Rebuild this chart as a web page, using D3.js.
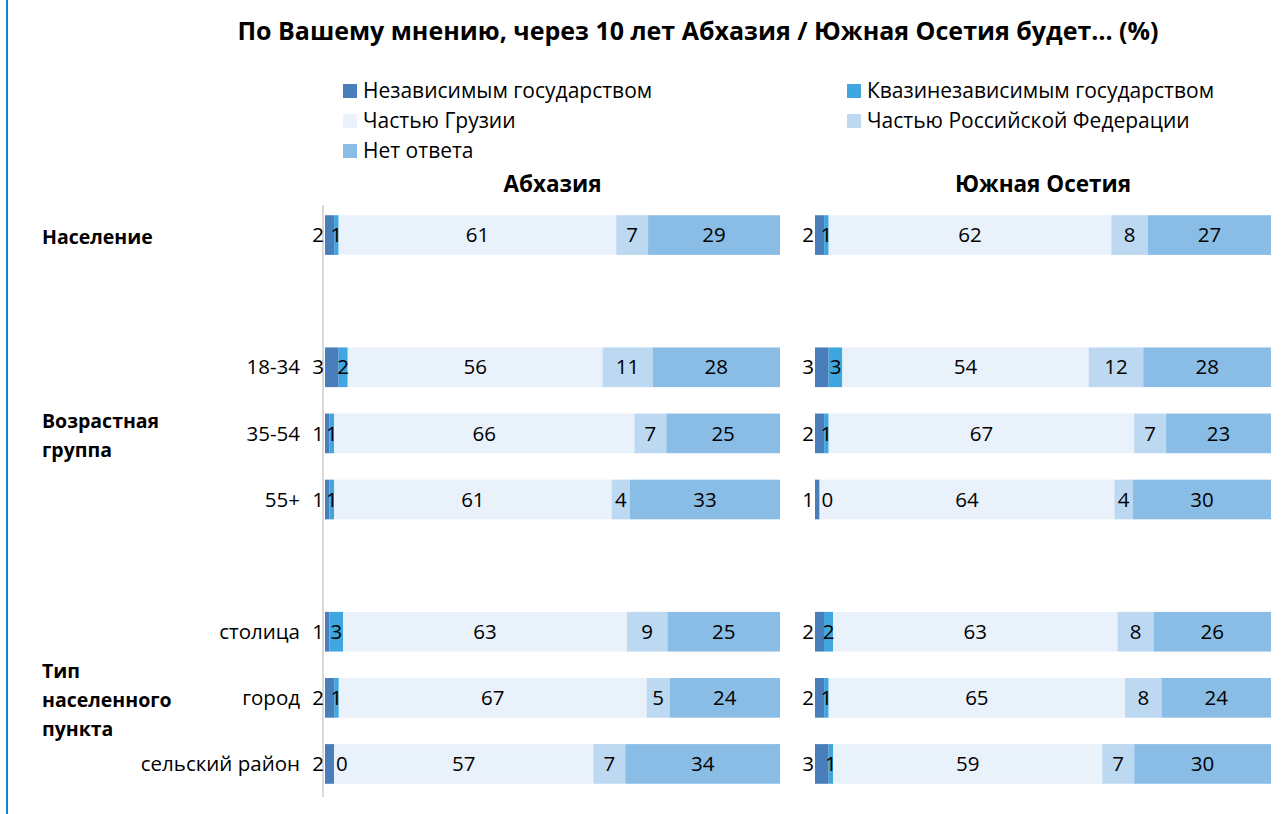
<!DOCTYPE html>
<html>
<head>
<meta charset="utf-8">
<script src="https://cdn.jsdelivr.net/npm/d3@7"></script>
<style>
  body { margin: 0; background: #fff; }
  svg { display: block; font-family: "Open Sans", "Noto Sans", sans-serif; }
</style>
</head>
<body>
<div id="chart"></div>
<script>
"use strict";

/* chart data */
const title = "По Вашему мнению, через 10 лет Абхазия / Южная Осетия будет… (%)";
const seriesNames = ["Независимым государством", "Квазинезависимым государством",
  "Частью Грузии", "Частью Российской Федерации", "Нет ответа"];
const seriesColors = ["#4a7ebb", "#3fa6df", "#e9f1fb", "#bdd8f1", "#8abde6"];
const panelNames = ["Абхазия", "Южная Осетия"];

// 9 vertical slots, two of them empty gaps between groups
const slotKeys = ["s0", "s1", "s2", "s3", "s4", "s5", "s6", "s7", "s8"];
const rowSlots = ["s0", "s2", "s3", "s4", "s6", "s7", "s8"];
const rowLabels = ["", "18-34", "35-54", "55+", "столица", "город", "сельский район"];

const abkhIndependent = [2, 3, 1, 1, 1, 2, 2];
const abkhQuasi       = [1, 2, 1, 1, 3, 1, 0];
const abkhGeorgia     = [61, 56, 66, 61, 63, 67, 57];
const abkhRussia      = [7, 11, 7, 4, 9, 5, 7];
const abkhNoAnswer    = [29, 28, 25, 33, 25, 24, 34];

const ossIndependent  = [2, 3, 2, 1, 2, 2, 3];
const ossQuasi        = [1, 3, 1, 0, 2, 1, 1];
const ossGeorgia      = [62, 54, 67, 64, 63, 65, 59];
const ossRussia       = [8, 12, 7, 4, 8, 8, 7];
const ossNoAnswer     = [27, 28, 23, 30, 26, 24, 30];

/* group labels (bold, on the left) */
const groupLabels = [
  { lines: ["Население"], slot: "s0" },
  { lines: ["Возрастная", "группа"], slot: "s3" },
  { lines: ["Тип", "населенного", "пункта"], slot: "s7" }
];

const width = 1282, height = 814;

const svg = d3.select("#chart").append("svg")
  .attr("width", width)
  .attr("height", height);

/* blue frame line on the left */
svg.append("line")
  .attr("x1", 7).attr("x2", 7)
  .attr("y1", 0).attr("y2", height)
  .attr("stroke", "#1180d3")
  .attr("stroke-width", 2);

/* title */
svg.append("text")
  .attr("x", 698).attr("y", 40)
  .attr("text-anchor", "middle")
  .style("font-size", "25px")
  .style("font-weight", "bold")
  .text(title);

/* legend */
const legendPos = [[343, 91], [847, 91], [343, 121], [847, 121], [343, 151]];
const legend = svg.selectAll(".legend")
  .data(seriesNames)
  .enter().append("g")
  .attr("class", "legend")
  .attr("transform", (d, i) => `translate(${legendPos[i][0]},${legendPos[i][1]})`);

legend.append("rect")
  .attr("x", 0).attr("y", -7)
  .attr("width", 14).attr("height", 14)
  .attr("fill", (d, i) => seriesColors[i]);

legend.append("text")
  .attr("x", 20).attr("y", 0)
  .attr("dy", "0.35em")
  .style("font-size", "21px")
  .text(d => d);

/* y scale shared by both panels */
const yScale = d3.scaleBand()
  .domain(slotKeys)
  .range([202, 797])
  .paddingInner(0.4)
  .paddingOuter(0.2);

/* category labels */
svg.selectAll(".rowLabel")
  .data(rowLabels)
  .enter().append("text")
  .attr("class", "rowLabel")
  .attr("x", 300)
  .attr("y", (d, i) => yScale(rowSlots[i]) + yScale.bandwidth() / 2)
  .attr("dy", "0.35em")
  .attr("text-anchor", "end")
  .style("font-size", "20.5px")
  .text(d => d);

/* group labels */
groupLabels.forEach(function(g) {
  const cy = yScale(g.slot) + yScale.bandwidth() / 2;
  const lineH = 29;
  const top = cy - (g.lines.length - 1) * lineH / 2;
  g.lines.forEach(function(line, j) {
    svg.append("text")
      .attr("x", 42)
      .attr("y", top + j * lineH + 2)
      .attr("dy", "0.35em")
      .style("font-size", "19.5px")
      .style("font-weight", "bold")
      .text(line);
  });
});

/* axis line of the first panel */
svg.append("line")
  .attr("x1", 323).attr("x2", 323)
  .attr("y1", 205).attr("y2", 797)
  .attr("stroke", "#d9d9d9")
  .attr("stroke-width", 2);

function buildRows(series) {
  return rowLabels.map(function(label, i) {
    const vals = series.map(s => s[i]);
    const total = d3.sum(vals);
    let acc = 0;
    return vals.map(function(v, k) {
      const seg = { slot: rowSlots[i], value: v, k: k, x0: acc / total * 100 };
      acc += v;
      seg.x1 = acc / total * 100;
      return seg;
    });
  });
}

const panels = [
  { name: panelNames[0], range: [325, 780],
    rows: buildRows([abkhIndependent, abkhQuasi, abkhGeorgia, abkhRussia, abkhNoAnswer]) },
  { name: panelNames[1], range: [815, 1271],
    rows: buildRows([ossIndependent, ossQuasi, ossGeorgia, ossRussia, ossNoAnswer]) }
];

panels.forEach(function(p) {
  const xScale = d3.scaleLinear().domain([0, 100]).range(p.range);
  const segs = p.rows.flat();
  const g = svg.append("g");

  g.append("text")
    .attr("x", (p.range[0] + p.range[1]) / 2)
    .attr("y", 184)
    .attr("dy", "0.35em")
    .attr("text-anchor", "middle")
    .style("font-size", "22.5px")
    .style("font-weight", "bold")
    .text(p.name);

  g.selectAll(".seg")
    .data(segs)
    .enter().append("rect")
    .attr("class", "seg")
    .attr("x", d => xScale(d.x0))
    .attr("width", d => xScale(d.x1) - xScale(d.x0))
    .attr("y", d => yScale(d.slot))
    .attr("height", yScale.bandwidth())
    .attr("fill", d => seriesColors[d.k]);

  g.selectAll(".val")
    .data(segs)
    .enter().append("text")
    .attr("class", "val")
    .attr("x", function(d) {
      if (d.k === 0) return xScale(d.x0) - 1;
      if (d.value === 0) return xScale(d.x0) + 2;
      return (xScale(d.x0) + xScale(d.x1)) / 2;
    })
    .attr("y", d => yScale(d.slot) + yScale.bandwidth() / 2)
    .attr("dy", "0.35em")
    .attr("text-anchor", function(d) {
      if (d.k === 0) return "end";
      if (d.value === 0) return "start";
      return "middle";
    })
    .style("font-size", "20.5px")
    .text(d => d.value);
});
</script>
</body>
</html>
